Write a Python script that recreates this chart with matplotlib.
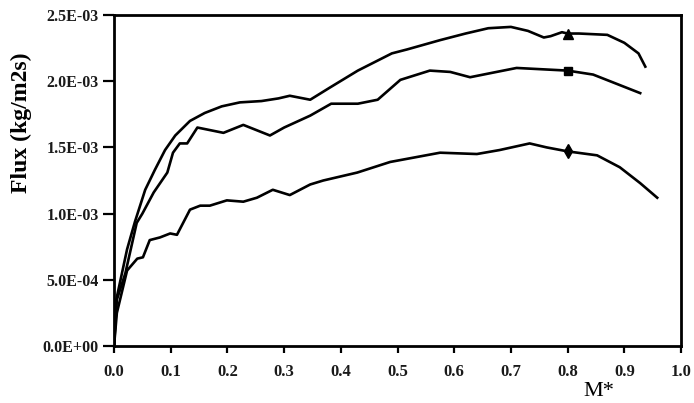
import numpy as np
import matplotlib
matplotlib.use('Agg')
from matplotlib import pyplot as plt

# series (flux in units of 1e-3 kg/m2s)
x_tri = [0.0, 0.004, 0.014, 0.023, 0.037, 0.055, 0.072, 0.09, 0.108, 0.134, 0.16, 0.19,
         0.222, 0.26, 0.29, 0.31, 0.346, 0.38, 0.43, 0.49, 0.517, 0.575, 0.62, 0.66, 0.70,
         0.73, 0.758, 0.77, 0.79, 0.8, 0.82, 0.87, 0.9, 0.925, 0.937]
y_tri = [0.0, 0.35, 0.55, 0.73, 0.94, 1.18, 1.33, 1.48, 1.59, 1.70, 1.76, 1.81,
         1.84, 1.85, 1.87, 1.89, 1.86, 1.95, 2.08, 2.21, 2.24, 2.31, 2.36, 2.40, 2.41,
         2.38, 2.33, 2.34, 2.37, 2.36, 2.36, 2.35, 2.29, 2.21, 2.11]

x_sq = [0.0, 0.005, 0.02, 0.04, 0.05, 0.07, 0.094, 0.104, 0.116, 0.129, 0.147, 0.17,
        0.193, 0.228, 0.275, 0.30, 0.346, 0.383, 0.43, 0.465, 0.505, 0.557, 0.593, 0.628,
        0.663, 0.71, 0.8, 0.845, 0.928]
y_sq = [0.0, 0.35, 0.55, 0.93, 1.0, 1.16, 1.31, 1.46, 1.53, 1.53, 1.65, 1.63,
        1.61, 1.67, 1.59, 1.65, 1.74, 1.83, 1.83, 1.86, 2.01, 2.08, 2.07, 2.03,
        2.06, 2.10, 2.08, 2.05, 1.91]

x_dia = [0.0, 0.005, 0.023, 0.041, 0.051, 0.063, 0.081, 0.099, 0.111, 0.134, 0.152,
         0.169, 0.199, 0.228, 0.252, 0.28, 0.31, 0.346, 0.369, 0.429, 0.487, 0.575,
         0.64, 0.68, 0.733, 0.763, 0.8, 0.852, 0.892, 0.928, 0.958]
y_dia = [0.0, 0.25, 0.57, 0.66, 0.67, 0.80, 0.82, 0.85, 0.84, 1.03, 1.06,
         1.06, 1.10, 1.09, 1.12, 1.18, 1.14, 1.22, 1.25, 1.31, 1.39, 1.46,
         1.45, 1.48, 1.53, 1.50, 1.47, 1.44, 1.35, 1.23, 1.12]

x_ticks = [0.0, 0.1, 0.2, 0.3, 0.4, 0.5, 0.6, 0.7, 0.8, 0.9, 1.0]
x_ticklabels = ['0.0', '0.1', '0.2', '0.3', '0.4', '0.5', '0.6', '0.7', '0.8', '0.9', '1.0']
y_ticks = [0.0, 0.5e-3, 1.0e-3, 1.5e-3, 2.0e-3, 2.5e-3]
y_ticklabels = ['0.0E+00', '5.0E-04', '1.0E-03', '1.5E-03', '2.0E-03', '2.5E-03']
marker_x = 0.8

plt.rcParams['font.family'] = ['Liberation Serif', 'DejaVu Serif']

fig = plt.figure(figsize=(6.94, 4.03), dpi=100)
ax = fig.add_axes([0.1643, 0.1414, 0.817, 0.8214])

for xs, ys, mk, ms in [(x_tri, y_tri, '^', 7), (x_sq, y_sq, 's', 6), (x_dia, y_dia, 'd', 7)]:
    ys = np.array(ys) * 1e-3
    idx = xs.index(marker_x)
    ax.plot(xs, ys, color='black', lw=1.9, solid_joinstyle='round',
            marker=mk, markersize=ms, markevery=[idx], markerfacecolor='black',
            markeredgecolor='black')

ax.set_xlim(0, 1.0)
ax.set_ylim(0, 2.5e-3)
ax.set_xticks(x_ticks)
ax.set_xticklabels(x_ticklabels, fontsize=12, fontweight='bold', color='#1a1a1a')
ax.set_yticks(y_ticks)
ax.set_yticklabels(y_ticklabels, fontsize=11.5, fontweight='bold', color='#1a1a1a')
ax.tick_params(axis='x', direction='out', length=5, width=1.6, pad=8)
ax.tick_params(axis='y', direction='out', length=8, width=1.6, pad=3)
for s in ax.spines.values():
    s.set_linewidth(2.0)

ax.set_ylabel('Flux (kg/m2s)', fontsize=17, fontweight='bold')
ax.yaxis.set_label_coords(-0.145, 0.675)
ax.set_xlabel('M*', fontsize=16)
ax.xaxis.set_label_coords(0.855, -0.11)

fig.savefig('out.png', dpi=100)
